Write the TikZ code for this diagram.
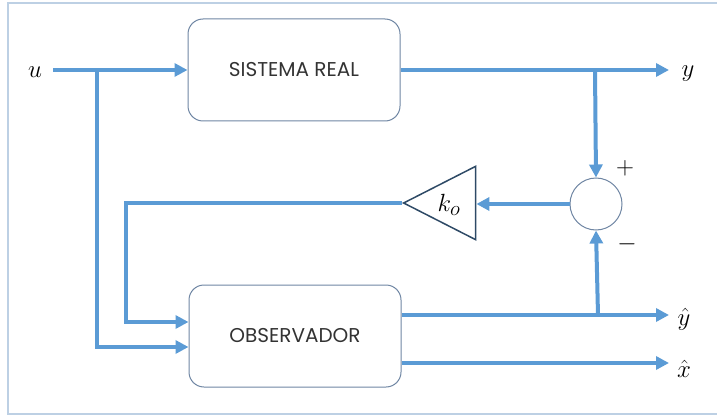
\documentclass[tikz,border=0pt]{standalone}
\usepackage{fontspec}
\newfontfamily\boxfont{Poppins}
\usetikzlibrary{arrows.meta,shapes.geometric}
\definecolor{flow}{HTML}{5B9BD5}
\definecolor{boxline}{HTML}{6F86A3}
\definecolor{tri}{HTML}{2E4A66}
\definecolor{frame}{HTML}{BDD0E4}
\tikzset{
  flowline/.style={draw=flow,line width=4pt},
  flowarrow/.style={flowline,-{Triangle[length=13pt,width=13pt]}},
  blockbox/.style={draw=boxline,line width=1pt,rounded corners=15pt,minimum width=212pt,minimum height=102pt,inner sep=0pt,font=\boxfont\fontsize{20}{22}\selectfont,text=black!80},
  sigtext/.style={inner sep=0pt,font=\fontsize{30}{32}\selectfont},
  hattext/.style={inner sep=0pt,anchor=base,font=\fontsize{26}{26}\selectfont},
  signtext/.style={inner sep=0pt,font=\fontsize{24}{26}\selectfont}
}
\begin{document}
\begin{tikzpicture}[x=1pt,y=-1pt]
\useasboundingbox (0,0) rectangle (717,417);
\draw[frame,line width=1.5pt] (730,3) -- (8,3) -- (8,414) -- (730,414);
\node[blockbox] (sr) at (294,70) {SISTEMA REAL};
\node[blockbox] (ob) at (295,336) {OBSERVADOR};
\node[sigtext] (u) at (35,72) {$u$};
\node[sigtext] (y) at (688,74) {$y$};
\node[hattext] (yh) at (684,325) {$\hat{y}$};
\node[hattext] (xh) at (684,377) {$\hat{x}$};
\node[draw=boxline,line width=1pt,circle,minimum size=52pt,inner sep=0pt] (sum) at (596,204) {};
\node[signtext] (plus) at (625,168) {$+$};
\node[signtext] (minus) at (627,244) {$-$};
\node[draw=tri,line width=1.5pt,isosceles triangle,shape border rotate=180,isosceles triangle apex angle=54,minimum height=72pt,inner sep=0pt,anchor=apex] (ko) at (402,203) {};
\node[sigtext] (kol) at (449,205) {$k_o$};
\coordinate (uin) at (53,70);
\coordinate (ubr) at (97,70);
\coordinate (ybr) at (595,70);
\coordinate (yend) at (669,70);
\coordinate (yhbr) at (598,315);
\coordinate (yhend) at (669,315);
\coordinate (xhend) at (669,363);
\coordinate (fbc) at (126,203);
% input
\draw[flowarrow] (uin) -- (sr.west |- uin);
\draw[flowarrow] (ubr) |- (ob.west |- 0,347);
% system output
\draw[flowarrow] (sr.east |- yend) -- (yend);
\draw[flowarrow] (ybr) -- (sum.north);
% observer outputs
\draw[flowarrow] (ob.east |- yhend) -- (yhend);
\draw[flowarrow] (ob.east |- xhend) -- (xhend);
\draw[flowarrow] (yhbr) -- (sum.south);
% feedback
\draw[flowarrow] (sum.west) -- (ko.east |- sum.west);
\draw[flowarrow] (ko.apex) -- (fbc) |- (ob.west |- 0,322);
\end{tikzpicture}
\end{document}
